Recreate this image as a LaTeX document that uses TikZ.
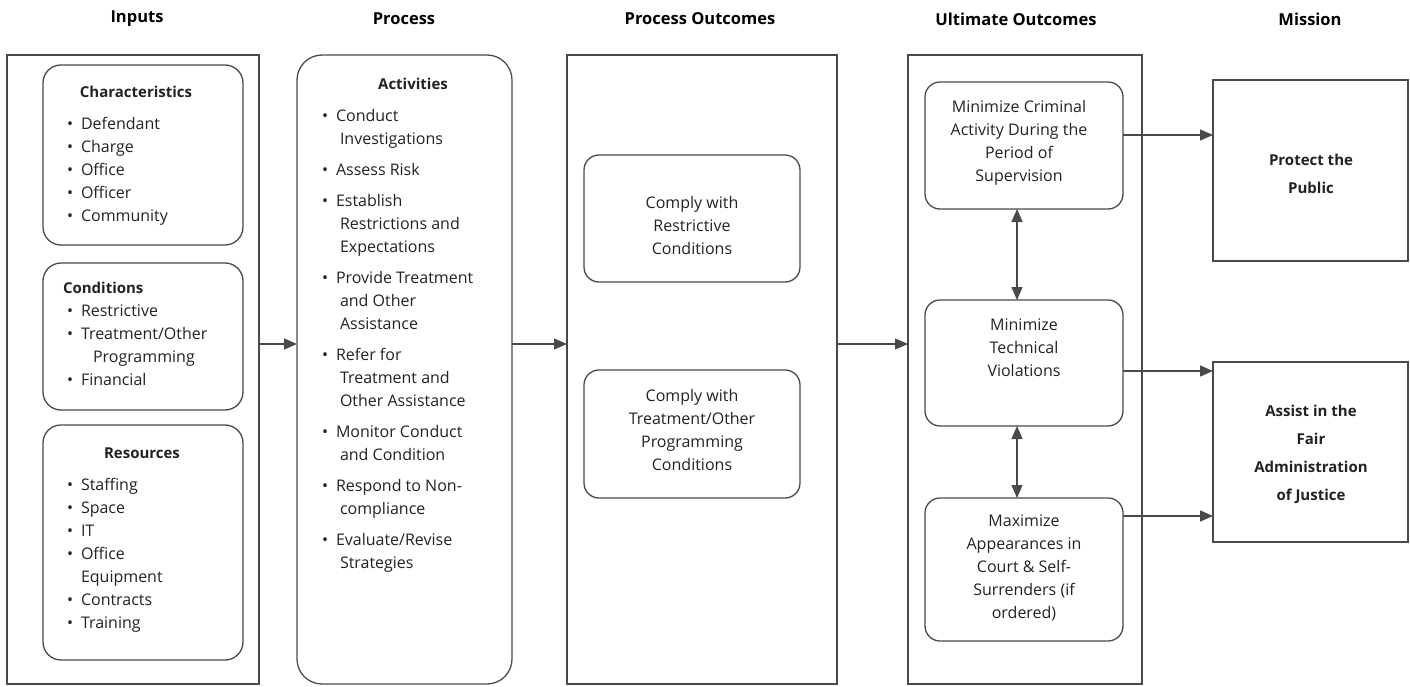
\documentclass[tikz,border=0pt]{standalone}
\usepackage{fontspec}
\setmainfont{Open Sans}
\usetikzlibrary{arrows.meta}
\definecolor{linec}{HTML}{4A4A4A}
\definecolor{txt}{HTML}{222222}
\newcommand{\bu}{\makebox[14pt][l]{\textbullet}}
\newcommand{\ct}[1][14pt]{\hspace*{#1}}
\begin{document}
\begin{tikzpicture}[x=1pt,y=-1pt,
  every node/.style={inner sep=0pt, outer sep=0pt},
  frame/.style={draw=linec, line width=1.3pt},
  rbox/.style={frame, rounded corners=18pt},
  ttl/.style={font=\fontsize{16.5}{18}\selectfont\bfseries, text=black},
  body/.style={font=\fontsize{16}{23}\selectfont, text=txt},
  hd/.style={font=\fontsize{15}{23}\selectfont\bfseries, text=txt},
  lst/.style={body, align=left, anchor=north west},
  ctr/.style={body, align=center},
  bld/.style={font=\fontsize{15}{28}\selectfont\bfseries, text=txt, align=center},
  arr/.style={draw=linec, line width=1.3pt, -{Triangle[length=13pt,width=11pt]}},
  darr/.style={draw=linec, line width=1.3pt, {Triangle[length=13pt,width=11pt]}-{Triangle[length=13pt,width=11pt]}}
]
\useasboundingbox (0,0) rectangle (1410,687);

% titles
\node[ttl] (t1) at (137,19) {Inputs};
\node[ttl] (t2) at (404,19) {Process};
\node[ttl] (t3) at (700,19) {Process Outcomes};
\node[ttl] (t4) at (1016,19) {Ultimate Outcomes};
\node[ttl] (t5) at (1310,19) {Mission};

% column frames
\node[frame, minimum width=252, minimum height=629] (inputs) at (133,369.5) {};
\node[rbox, rounded corners=25pt, minimum width=215, minimum height=629] (proc) at (404.5,369.5) {};
\node[frame, minimum width=270, minimum height=629] (po) at (702,369.5) {};
\node[frame, minimum width=234, minimum height=629] (uo) at (1025,369.5) {};

% inputs inner boxes
\node[rbox, minimum width=200, minimum height=180] (char) at (143,155) {};
\node[rbox, minimum width=200, minimum height=147] (cond) at (143,336.5) {};
\node[rbox, minimum width=200, minimum height=235] (res) at (143,542.5) {};

\node[hd] (charh) at (136,92) {Characteristics};
\node[lst] (charl) at (67,117) {\bu Defendant\\ \bu Charge\\ \bu Office\\ \bu Officer\\ \bu Community};

\node[hd, anchor=west] (condh) at (63,288) {Conditions};
\node[lst] (condl) at (67,305) {\bu Restrictive\\ \bu Treatment/Other\\ \ct[26pt]Programming\\ \bu Financial};

\node[hd] (resh) at (142,453) {Resources};
\node[lst] (resl) at (67,478) {\bu Staffing\\ \bu Space\\ \bu IT\\ \bu Office\\ \ct Equipment\\ \bu Contracts\\ \bu Training};

% process
\node[hd] (acth) at (413,84) {Activities};
\node[lst] (actl) at (322,109) {\bu Conduct\\ \ct[18pt]Investigations\\[8pt]
\bu Assess Risk\\[8pt]
\bu Establish\\ \ct[18pt]Restrictions and\\ \ct[18pt]Expectations\\[8pt]
\bu Provide Treatment\\ \ct[18pt]and Other\\ \ct[18pt]Assistance\\[8pt]
\bu Refer for\\ \ct[18pt]Treatment and\\ \ct[18pt]Other Assistance\\[8pt]
\bu Monitor Conduct\\ \ct[18pt]and Condition\\[8pt]
\bu Respond to Non-\\ \ct[18pt]compliance\\[8pt]
\bu Evaluate/Revise\\ \ct[18pt]Strategies};

% process outcomes
\node[rbox, rounded corners=15pt, minimum width=216, minimum height=127] (c1) at (692,218.5) {};
\node[rbox, rounded corners=15pt, minimum width=216, minimum height=128] (c2) at (692,434) {};
\node[ctr] (c1t) at (692,225) {Comply with\\ Restrictive\\ Conditions};
\node[ctr] (c2t) at (692,430) {Comply with\\ Treatment/Other\\ Programming\\ Conditions};

% ultimate outcomes
\node[rbox, rounded corners=15pt, minimum width=198, minimum height=127] (u1) at (1024,145.5) {};
\node[rbox, rounded corners=15pt, minimum width=198, minimum height=126] (u2) at (1024,363) {};
\node[rbox, rounded corners=15pt, minimum width=198, minimum height=143] (u3) at (1024,569.5) {};
\node[ctr] (u1t) at (1019,143) {Minimize Criminal\\ Activity During the\\ Period of\\ Supervision};
\node[ctr] (u2t) at (1024,348) {Minimize\\ Technical\\ Violations};
\node[ctr] (u3t) at (1024,568) {Maximize\\ Appearances in\\ Court \& Self-\\ Surrenders (if\\ ordered)};

% mission
\node[frame, minimum width=195, minimum height=181] (prot) at (1310.5,170.5) {};
\node[frame, minimum width=195, minimum height=180] (asst) at (1310.5,452) {};
\node[bld] (prott) at (1311,174) {Protect the\\ Public};
\node[bld] (asstt) at (1311,454) {Assist in the\\ Fair\\ Administration\\ of Justice};

% connectors
\coordinate (ra) at (0,344);
\coordinate (m1) at (0,135);
\coordinate (m2) at (0,371);
\coordinate (m3) at (0,516);
\coordinate (dx) at (1017,0);
\draw[arr] (inputs.east |- ra) -- (proc.west |- ra);
\draw[arr] (proc.east |- ra) -- (po.west |- ra);
\draw[arr] (po.east |- ra) -- (uo.west |- ra);
\draw[arr] (u1.east |- m1) -- (prot.west |- m1);
\draw[arr] (u2.east |- m2) -- (asst.west |- m2);
\draw[arr] (u3.east |- m3) -- (asst.west |- m3);
\draw[darr] (u1.south -| dx) -- (u2.north -| dx);
\draw[darr] (u2.south -| dx) -- (u3.north -| dx);
\end{tikzpicture}
\end{document}
